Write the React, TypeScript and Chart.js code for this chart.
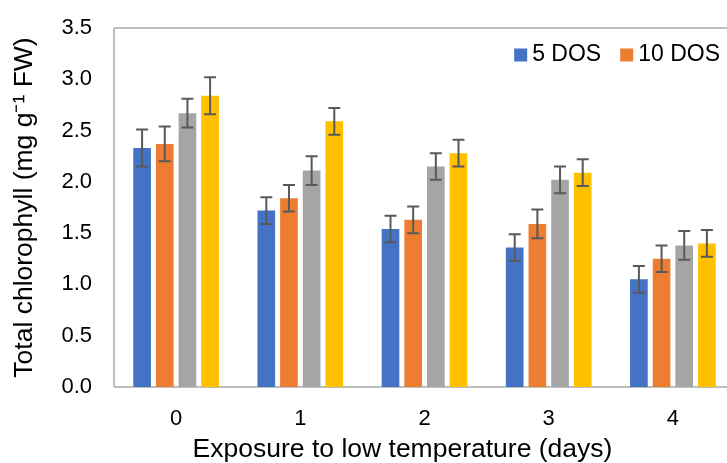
import React, { useEffect, useRef } from "react";
import { Chart, registerables } from "chart.js";

Chart.register(...registerables);

const categories = ["0", "1", "2", "3", "4"];
const seriesNames = ["5 DOS", "10 DOS", "15 DOS", "20 DOS"];
const s5 = [2.33, 1.72, 1.54, 1.36, 1.05];
const s10 = [2.37, 1.84, 1.63, 1.59, 1.25];
const s15 = [2.67, 2.11, 2.15, 2.02, 1.38];
const s20 = [2.84, 2.59, 2.28, 2.09, 1.4];
const e5 = [0.18, 0.13, 0.13, 0.13, 0.13];
const e10 = [0.17, 0.13, 0.13, 0.14, 0.13];
const e15 = [0.14, 0.14, 0.13, 0.13, 0.14];
const e20 = [0.18, 0.13, 0.13, 0.13, 0.13];
const colors = ["#4472C4", "#ED7D31", "#A5A5A5", "#FFC000"];
const legendShown = ["5 DOS", "10 DOS"];
const yTitle = "Total chlorophyll (mg g⁻¹ FW)";
const xTitle = "Exposure to low temperature (days)";
const yMin = 0;
const yMax = 3.5;
const yStep = 0.5;

const FONT = "'Liberation Sans', Arial, sans-serif";

const values = [s5, s10, s15, s20];
const errors = [e5, e10, e15, e20];

const frameBox = {
  id: "frameBox",
  beforeDatasetsDraw(chart: any) {
    const { ctx } = chart;
    const y = chart.scales.y;
    const x = chart.scales.x;
    const top = Math.round(y.getPixelForValue(yMax));
    const bottom = Math.round(y.getPixelForValue(yMin));
    const left = Math.round(x.left);
    const right = Math.round(x.right);
    ctx.save();
    ctx.strokeStyle = "#BFBFBF";
    ctx.lineWidth = 2;
    ctx.beginPath();
    ctx.moveTo(left, top);
    ctx.lineTo(right, top);
    ctx.moveTo(left, top);
    ctx.lineTo(left, bottom);
    ctx.moveTo(left, bottom);
    ctx.lineTo(right, bottom);
    ctx.moveTo(right, top);
    ctx.lineTo(right, bottom);
    ctx.stroke();
    ctx.restore();
  },
};

const errorBars = {
  id: "errorBars",
  afterDatasetsDraw(chart: any) {
    const { ctx } = chart;
    const yScale = chart.scales.y;
    ctx.save();
    ctx.strokeStyle = "#595959";
    ctx.lineWidth = 2;
    chart.data.datasets.forEach((ds: any, i: number) => {
      const meta = chart.getDatasetMeta(i);
      meta.data.forEach((bar: any, j: number) => {
        const v = ds.data[j];
        const e = ds.errors[j];
        const x = bar.x;
        const yt = yScale.getPixelForValue(v + e);
        const yb = yScale.getPixelForValue(v - e);
        const cap = 6;
        ctx.beginPath();
        ctx.moveTo(x, yt);
        ctx.lineTo(x, yb);
        ctx.moveTo(x - cap, yt);
        ctx.lineTo(x + cap, yt);
        ctx.moveTo(x - cap, yb);
        ctx.lineTo(x + cap, yb);
        ctx.stroke();
      });
    });
    ctx.restore();
  },
};

const customLegendAndTitle = {
  id: "customLegendAndTitle",
  afterDraw(chart: any) {
    const { ctx } = chart;
    ctx.save();
    // legend
    ctx.font = `23px ${FONT}`;
    ctx.textBaseline = "middle";
    ctx.textAlign = "left";
    const items = chart.data.datasets.filter((d: any) => legendShown.includes(d.label));
    let x = 720;
    const y = 55;
    const box = 13;
    const gap = 5;
    const between = 19;
    const positions: any[] = [];
    for (let k = items.length - 1; k >= 0; k--) {
      const w = ctx.measureText(items[k].label).width;
      const textX = x - w;
      const boxX = textX - gap - box;
      positions.unshift({ item: items[k], textX, boxX });
      x = boxX - between;
    }
    positions.forEach((p) => {
      ctx.fillStyle = p.item.backgroundColor;
      ctx.fillRect(p.boxX, y - box / 2, box, box);
      ctx.fillStyle = "#000000";
      ctx.fillText(p.item.label, p.textX, y);
    });
    // x title
    ctx.font = `26.5px ${FONT}`;
    ctx.textAlign = "center";
    ctx.fillStyle = "#000000";
    ctx.fillText(xTitle, 402.5, 450);
    ctx.restore();
  },
};

export default function App() {
  const ref = useRef<HTMLCanvasElement | null>(null);
  useEffect(() => {
    if (!ref.current) return;
    Chart.defaults.font.family = FONT;
    const chart = new Chart(ref.current, {
      type: "bar",
      data: {
        labels: categories,
        datasets: seriesNames.map((name, i) => ({
          label: name,
          data: values[i],
          errors: errors[i],
          backgroundColor: colors[i],
          borderWidth: 0,
          categoryPercentage: 0.73,
          barPercentage: 0.78,
        })) as any,
      },
      options: {
        animation: false,
        responsive: false,
        devicePixelRatio: 1,
        layout: { padding: { top: 28, right: 10, bottom: 0, left: 0 } },
        plugins: {
          legend: { display: false },
          tooltip: { enabled: false },
        },
        scales: {
          x: {
            grid: { display: false, drawTicks: false },
            border: { display: false },
            ticks: { color: "#000000", font: { size: 22 }, padding: 19 },
            afterFit: (scale: any) => {
              scale.height = 76;
              scale.paddingLeft = 0;
              scale.paddingRight = 0;
            },
          },
          y: {
            min: yMin,
            max: yMax,
            grid: { display: false, drawTicks: false },
            border: { display: false },
            ticks: {
              stepSize: yStep,
              color: "#000000",
              font: { size: 22 },
              padding: 22,
              callback: (v: any) => Number(v).toFixed(1),
            },
            title: {
              display: true,
              text: yTitle,
              color: "#000000",
              font: { size: 26.5 },
              padding: { top: 9, bottom: 0 },
            },
            afterFit: (scale: any) => {
              scale.width = 114;
              scale.paddingTop = 0;
              scale.paddingBottom = 0;
            },
          },
        },
      } as any,
      plugins: [frameBox, errorBars, customLegendAndTitle],
    });
    return () => chart.destroy();
  }, []);
  return (
    <div style={{ position: "absolute", left: 0, top: 0, width: 727, height: 463, overflow: "hidden", background: "#ffffff" }}>
      <canvas ref={ref} width={745} height={463} style={{ width: 745, height: 463, display: "block" }} />
    </div>
  );
}
